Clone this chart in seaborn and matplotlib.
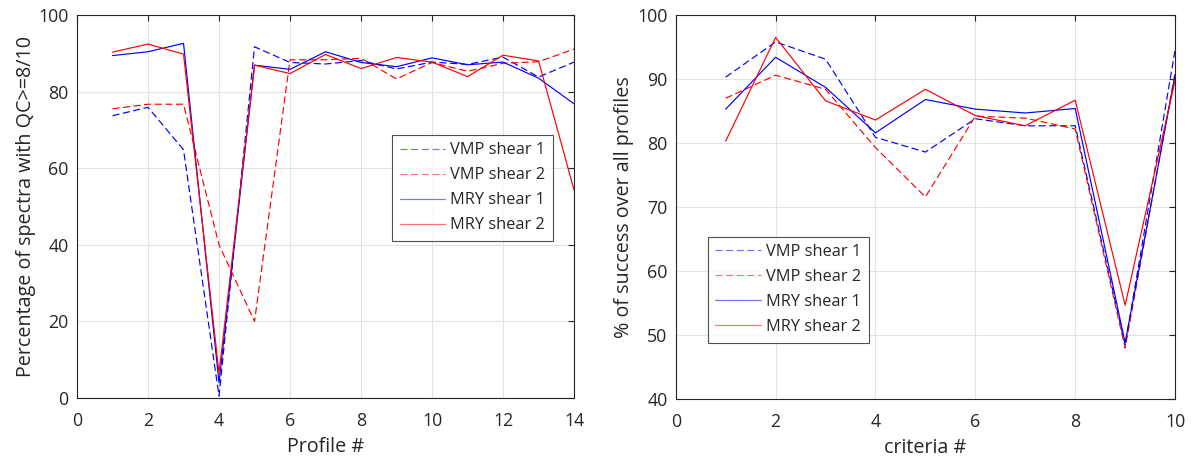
import numpy as np
import pandas as pd
import matplotlib
matplotlib.use("Agg")
import matplotlib.pyplot as plt
import seaborn as sns

# ---- data: left panel (per profile) ----
profiles = list(range(1, 15))
left_vmp1 = [73.7, 75.9, 64.8, 0.5, 91.7, 87.6, 87.2, 88.1, 85.9, 87.7, 87.1, 89.0, 83.8, 87.7]
left_vmp2 = [75.5, 76.7, 76.7, 40.0, 20.0, 88.3, 88.3, 88.7, 83.3, 87.6, 85.3, 87.4, 87.8, 91.1]
left_mry1 = [89.4, 90.4, 92.6, 4.0, 86.9, 85.8, 90.4, 87.6, 86.5, 88.8, 87.0, 87.7, 83.5, 76.8]
left_mry2 = [90.3, 92.4, 89.8, 6.5, 86.9, 84.7, 89.7, 86.0, 88.9, 87.7, 83.9, 89.5, 88.0, 54.3]

# ---- data: right panel (per criterion) ----
criteria = list(range(1, 11))
right_vmp1 = [90.3, 95.8, 93.1, 80.9, 78.6, 83.8, 82.7, 82.7, 48.5, 94.5]
right_vmp2 = [87.0, 90.6, 88.4, 79.3, 71.6, 84.2, 83.9, 82.2, 48.0, 91.0]
right_mry1 = [85.3, 93.4, 88.7, 81.6, 86.8, 85.3, 84.7, 85.4, 48.8, 90.6]
right_mry2 = [80.3, 96.5, 86.6, 83.6, 88.4, 84.3, 82.7, 86.7, 54.7, 89.8]

series_names = ["VMP shear 1", "VMP shear 2", "MRY shear 1", "MRY shear 2"]
left_xlabel = "Profile #"
left_ylabel = "Percentage of spectra with QC>=8/10"
right_xlabel = "criteria #"
right_ylabel = "% of success over all profiles"

sns.set_style("whitegrid")
plt.rcParams['font.family'] = ['Open Sans', 'DejaVu Sans']
plt.rcParams['font.size'] = 12.5

styles = {
    "VMP shear 1": dict(color="#0000ff", ls=(0, (6, 3))),
    "VMP shear 2": dict(color="#ff0000", ls=(0, (6, 3))),
    "MRY shear 1": dict(color="#0000ff", ls="-"),
    "MRY shear 2": dict(color="#ff0000", ls="-"),
}

fig = plt.figure(figsize=(11.92, 4.61), dpi=100)
axL = fig.add_axes([0.0646, 0.1367, 0.417, 0.8308])
axR = fig.add_axes([0.5669, 0.1338, 0.4189, 0.8337])


def draw(ax, x, data, xlim, ylim, xticks, yticks, xlabel, ylabel, leg_anchor):
    for name, vals in zip(series_names, data):
        df = pd.DataFrame({"x": x, "y": vals})
        st = styles[name]
        sns.lineplot(data=df, x="x", y="y", ax=ax, color=st["color"],
                     linestyle=st["ls"], linewidth=0.85, label=name)
    ax.set_xlim(*xlim)
    ax.set_ylim(*ylim)
    ax.set_xticks(xticks)
    ax.set_yticks(yticks)
    ax.set_xlabel(xlabel, fontsize=14.2, labelpad=5)
    ax.set_ylabel(ylabel, fontsize=14.2, labelpad=2)
    ax.grid(True, color="#e3e3e3", linewidth=0.8)
    for s in ax.spines.values():
        s.set_visible(True)
        s.set_color("#262626")
        s.set_linewidth(0.8)
    ax.tick_params(direction="in", top=True, right=True, length=4,
                   color="#262626", labelsize=12.8, width=0.8)
    ax.tick_params(axis="x", pad=10)
    ax.tick_params(axis="y", pad=6)
    ax.set_facecolor("white")
    leg = ax.legend(loc="upper left", bbox_to_anchor=leg_anchor, fontsize=11.8,
                    frameon=True, fancybox=False, handlelength=2.8,
                    borderpad=0.45, labelspacing=0.55, handletextpad=0.3,
                    borderaxespad=0)
    leg.get_frame().set_edgecolor("#262626")
    leg.get_frame().set_linewidth(0.8)
    for h in leg.get_lines():
        h.set_alpha(0.55)


draw(axL, profiles, [left_vmp1, left_vmp2, left_mry1, left_mry2],
     (0, 14), (0, 100), range(0, 15, 2), range(0, 101, 20),
     left_xlabel, left_ylabel, (0.634, 0.687))
draw(axR, criteria, [right_vmp1, right_vmp2, right_mry1, right_mry2],
     (0, 10), (40, 100), range(0, 11, 2), range(40, 101, 10),
     right_xlabel, right_ylabel, (0.0647, 0.423))

fig.savefig("out.png", dpi=100, facecolor="white")
